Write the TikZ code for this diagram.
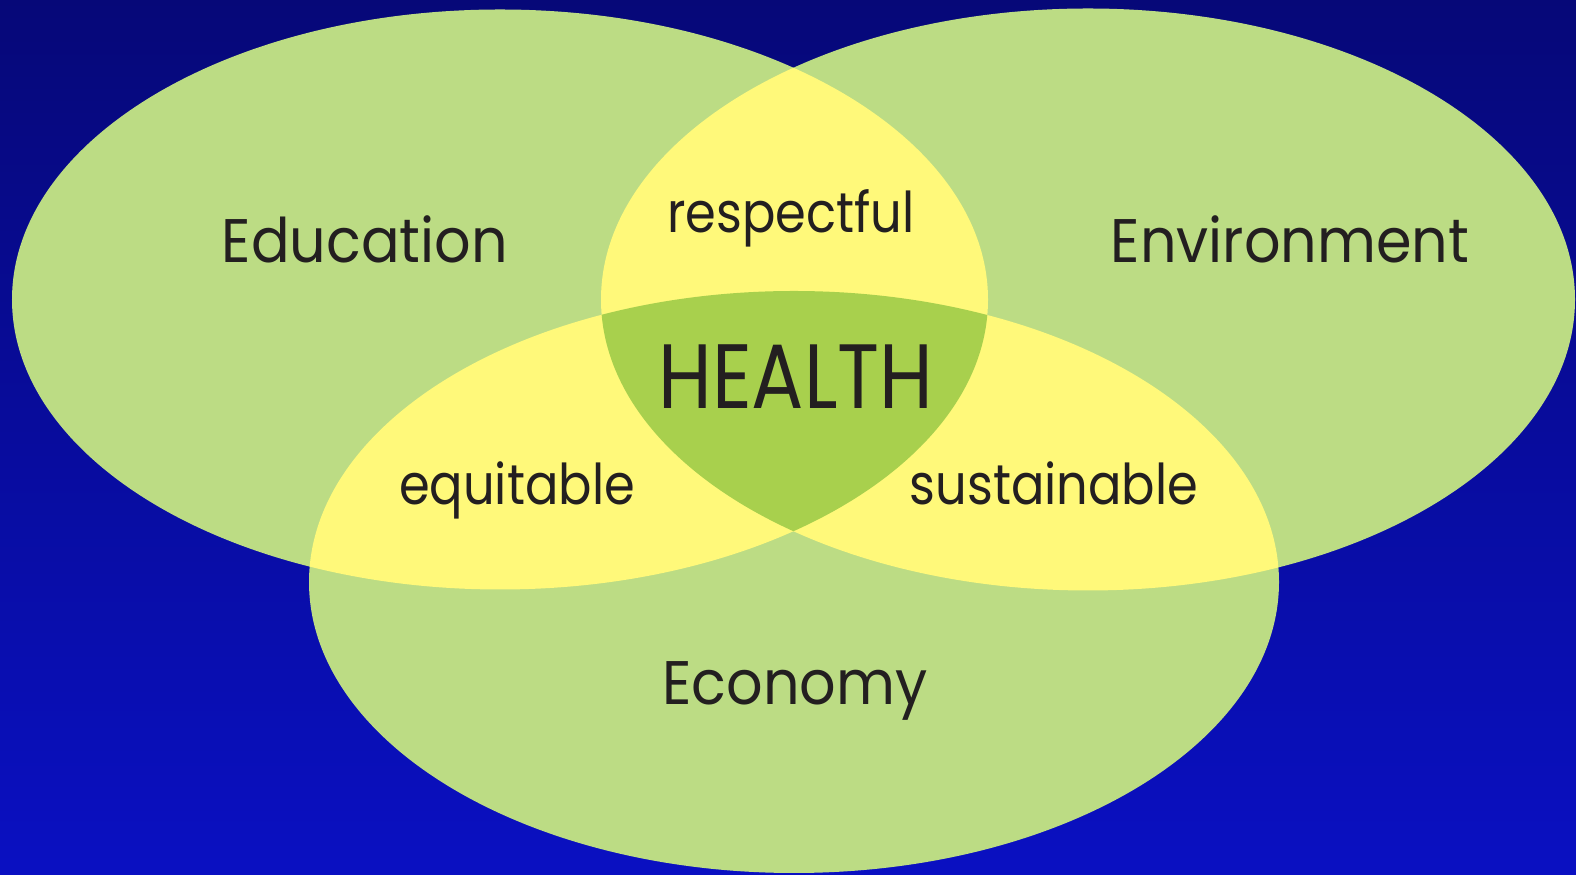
\documentclass[tikz,border=0pt]{standalone}
\usepackage{fontspec}
\setmainfont{Poppins}
\newfontfamily\ringfont[FakeStretch=0.93]{Poppins}
\newfontfamily\overlapfont[FakeStretch=0.88]{Poppins}
\newfontfamily\healthfont[FakeStretch=0.85]{Poppins}
\usepackage{xcolor}
\usepackage{tikz}
\definecolor{skytop}{HTML}{060878}
\definecolor{skybottom}{HTML}{0A10C2}
\definecolor{leafcolor}{HTML}{BCDC84}
\definecolor{overlapcolor}{HTML}{FFF97A}
\definecolor{healthcolor}{HTML}{A8D04D}
\definecolor{inkcolor}{HTML}{231F20}

\begin{document}
\begin{tikzpicture}[
  label/.style={text=inkcolor, inner sep=0pt, anchor=base, font=\ringfont\fontsize{17.5pt}{21pt}\selectfont},
  small label/.style={label, font=\overlapfont\fontsize{16pt}{19pt}\selectfont},
  eduring/.style={x radius=4.88, y radius=2.90},
  envring/.style={x radius=4.87, y radius=2.91},
  ecoring/.style={x radius=4.85, y radius=2.91}]%
\useasboundingbox (0,0) rectangle (15.76,8.75);%
\shade[top color=skytop, bottom color=skybottom] (0,0) rectangle (15.76,8.75);%
% centres of the three circles
\coordinate (edu) at (5.00,5.755);%
\coordinate (env) at (10.88,5.755);%
\coordinate (eco) at (7.94,2.93);%
\fill[leafcolor] (edu) ellipse [eduring];%
\fill[leafcolor] (env) ellipse [envring];%
\fill[leafcolor] (eco) ellipse [ecoring];%
% pairwise overlaps
\begin{scope}%
\clip (edu) ellipse [eduring];%
\fill[overlapcolor] (env) ellipse [envring];%
\fill[overlapcolor] (eco) ellipse [ecoring];%
\end{scope}%
\begin{scope}%
\clip (env) ellipse [envring];%
\fill[overlapcolor] (eco) ellipse [ecoring];%
\end{scope}%
% middle
\begin{scope}%
\clip (edu) ellipse [eduring];%
\clip (env) ellipse [envring];%
\fill[healthcolor] (eco) ellipse [ecoring];%
\end{scope}%
\node[label] (education) at (3.65,6.12) {Education};%
\node[label] (environment) at (12.90,6.12) {Environment};%
\node[label] (economy) at (7.95,1.70) {Economy};%
\node[small label] (respectful) at (7.91,6.42) {respectful};%
\node[small label] (equitable) at (5.17,3.70) {equitable};%
\node[small label] (sustainable) at (10.54,3.70) {sustainable};%
\node[label, font=\healthfont\fontsize{26pt}{31pt}\selectfont] (health) at (7.96,4.66) {HEALTH};%
\end{tikzpicture}
\end{document}
